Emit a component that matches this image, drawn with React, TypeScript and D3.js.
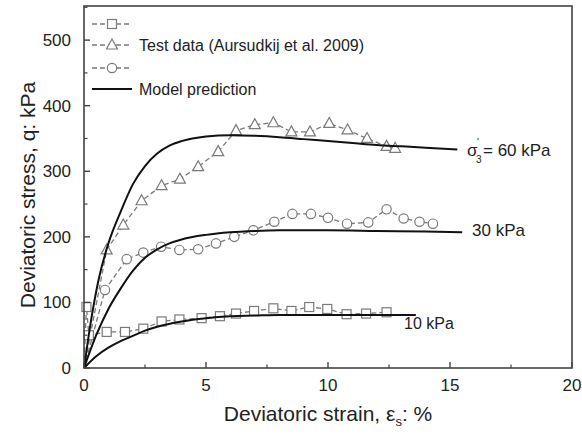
import React from "react";
import * as d3 from "d3";

const xTicks = [0, 5, 10, 15, 20];
const yTicks = [0, 100, 200, 300, 400, 500];

const test10: [number, number][] = [
  [0, 0], [0.1, 93], [0.2, 50], [0.93, 55], [1.68, 55], [2.43, 60], [3.18, 71], [3.91, 74], [4.82, 76],
  [5.57, 79], [6.23, 83], [6.97, 87], [7.76, 91], [8.5, 87], [9.23, 93], [9.97, 90],
  [10.76, 82], [11.56, 83], [12.4, 85],
];
const test30: [number, number][] = [
  [0, 0], [0.86, 119], [1.75, 166], [2.43, 176], [3.16, 185], [3.91, 180], [4.68, 181], [5.41, 190],
  [6.16, 200], [6.94, 210], [7.8, 223], [8.54, 235], [9.3, 235], [10.0, 229], [10.78, 220],
  [11.65, 222], [12.4, 242], [13.1, 228], [13.75, 223], [14.3, 220],
];
const test60: [number, number][] = [
  [0, 0], [0.93, 180], [1.61, 218], [2.36, 255], [3.18, 278], [3.93, 288], [4.68, 307], [5.5, 330],
  [6.23, 362], [7.0, 371], [7.76, 374], [8.5, 360], [9.26, 360], [10.05, 373], [10.8, 363],
  [11.6, 350], [12.4, 338], [12.75, 335],
];

const model10: [number, number][] = [
  [0, 0], [0.5, 18], [1, 31], [1.5, 41], [2, 49], [2.5, 57], [3, 63], [4, 71], [5, 76], [6, 79],
  [7, 80], [8, 81], [10, 81], [12, 81], [13.6, 81],
];
const model30: [number, number][] = [
  [0, 0], [0.5, 50], [1, 90], [1.5, 121], [2, 148], [2.5, 168], [3, 181], [3.5, 190], [4, 196],
  [5, 203], [6, 207], [7, 209], [8, 210], [10, 210], [12, 209], [14, 208], [15.5, 207],
];
const model60: [number, number][] = [
  [0, 0], [0.3, 75], [0.6, 135], [1, 190], [1.5, 238], [2, 280], [2.5, 308], [3, 327], [3.5, 339],
  [4, 346], [5, 353], [6, 355], [7, 354], [8, 352], [9, 349], [10, 346], [11, 343], [12, 340],
  [13, 338], [14, 336], [15.3, 333],
];

const FONT = "Arial, 'Liberation Sans', Helvetica, sans-serif";
const GRAY = "#7a7a7a";

const m = { left: 84, top: 6, right: 572, bottom: 368 };

export default function App() {
  const x = d3.scaleLinear().domain([0, 20]).range([m.left, m.right]);
  const y = d3.scaleLinear().domain([0, 552]).range([m.bottom, m.top]);
  const line = d3.line<[number, number]>().x((d) => x(d[0])).y((d) => y(d[1]));
  const smooth = d3
    .line<[number, number]>()
    .x((d) => x(d[0]))
    .y((d) => y(d[1]))
    .curve(d3.curveMonotoneX);

  const minorX = d3.range(0, 20.01, 2.5).filter((v) => v % 5 !== 0);
  const minorY = d3.range(50, 551, 100);

  const square = (cx: number, cy: number, k: string) => (
    <rect key={k} x={cx - 4.5} y={cy - 4.5} width={9} height={9} fill="white" stroke={GRAY} strokeWidth={1.2} />
  );
  const tri = (cx: number, cy: number, k: string) => (
    <path
      key={k}
      d={`M${cx},${cy - 6} L${cx + 5.5},${cy + 4} L${cx - 5.5},${cy + 4} Z`}
      fill="white"
      stroke={GRAY}
      strokeWidth={1.2}
    />
  );
  const circ = (cx: number, cy: number, k: string) => (
    <circle key={k} cx={cx} cy={cy} r={4.7} fill="white" stroke={GRAY} strokeWidth={1.2} />
  );

  const legendRows = [24, 45, 68, 89];

  return (
    <svg width={582} height={437} style={{ position: "absolute", left: 0, top: 0, background: "white" }} fontFamily={FONT}>
      {[test10, test30, test60].map((d, i) => (
        <path key={"tl" + i} d={line(d) || ""} fill="none" stroke={GRAY} strokeWidth={1.3} strokeDasharray="5,3" />
      ))}
      {test10.slice(1).map((d, i) => square(x(d[0]), y(d[1]), "s" + i))}
      {test30.slice(1).map((d, i) => circ(x(d[0]), y(d[1]), "c" + i))}
      {test60.slice(1).map((d, i) => tri(x(d[0]), y(d[1]), "t" + i))}

      {[model10, model30, model60].map((d, i) => (
        <path key={"ml" + i} d={smooth(d) || ""} fill="none" stroke="#111" strokeWidth={2} />
      ))}

      <rect x={m.left} y={m.top} width={m.right - m.left} height={m.bottom - m.top} fill="none" stroke="#444" strokeWidth={1.6} />

      {xTicks.map((t) => (
        <g key={"xt" + t}>
          <line x1={x(t)} x2={x(t)} y1={m.bottom} y2={m.bottom - 6} stroke="#444" strokeWidth={1.4} />
          <text x={x(t)} y={m.bottom + 23} textAnchor="middle" fontSize={17} fill="#222">{t}</text>
        </g>
      ))}
      {minorX.map((t) => (
        <line key={"xm" + t} x1={x(t)} x2={x(t)} y1={m.bottom} y2={m.bottom - 3.5} stroke="#444" strokeWidth={1.2} />
      ))}
      {yTicks.map((t) => (
        <g key={"yt" + t}>
          <line x1={m.left} x2={m.left + 6} y1={y(t)} y2={y(t)} stroke="#444" strokeWidth={1.4} />
          <text x={m.left - 13} y={y(t) + 6} textAnchor="end" fontSize={17} fill="#222">{t}</text>
        </g>
      ))}
      {minorY.map((t) => (
        <line key={"ym" + t} x1={m.left} x2={m.left + 3.5} y1={y(t)} y2={y(t)} stroke="#444" strokeWidth={1.2} />
      ))}

      <text x={328} y={421} textAnchor="middle" fontSize={21} fill="#222">
        Deviatoric strain, ε<tspan fontSize={13} dy={5}>s</tspan><tspan dy={-5}>: %</tspan>
      </text>
      <text transform="translate(35,195) rotate(-90)" textAnchor="middle" fontSize={21} fill="#222">
        Deviatoric stress, q: kPa
      </text>

      <text x={467} y={156} fontSize={17} fill="#222">σ</text>
      <text x={476} y={163} fontSize={10} fill="#222">3</text>
      <text x={477} y={146} fontSize={10} fill="#222">'</text>
      <text x={483} y={156} fontSize={17} fill="#222">= 60 kPa</text>
      <text x={472} y={236} fontSize={17} fill="#222">30 kPa</text>
      <text x={404} y={329} fontSize={16} fill="#222">10 kPa</text>

      {legendRows.slice(0, 3).map((ly, i) => (
        <g key={"lg" + i}>
          <line x1={92} x2={132} y1={ly} y2={ly} stroke={GRAY} strokeWidth={1.3} strokeDasharray="5,3" />
          {i === 0 ? square(112, ly, "ls") : i === 1 ? tri(112, ly, "lt") : circ(112, ly, "lc")}
        </g>
      ))}
      <text x={139} y={51} fontSize={16} fill="#222">Test data (Aursudkij et al. 2009)</text>
      <line x1={92} x2={132} y1={legendRows[3]} y2={legendRows[3]} stroke="#111" strokeWidth={2} />
      <text x={139} y={95} fontSize={16} fill="#222">Model prediction</text>
    </svg>
  );
}
